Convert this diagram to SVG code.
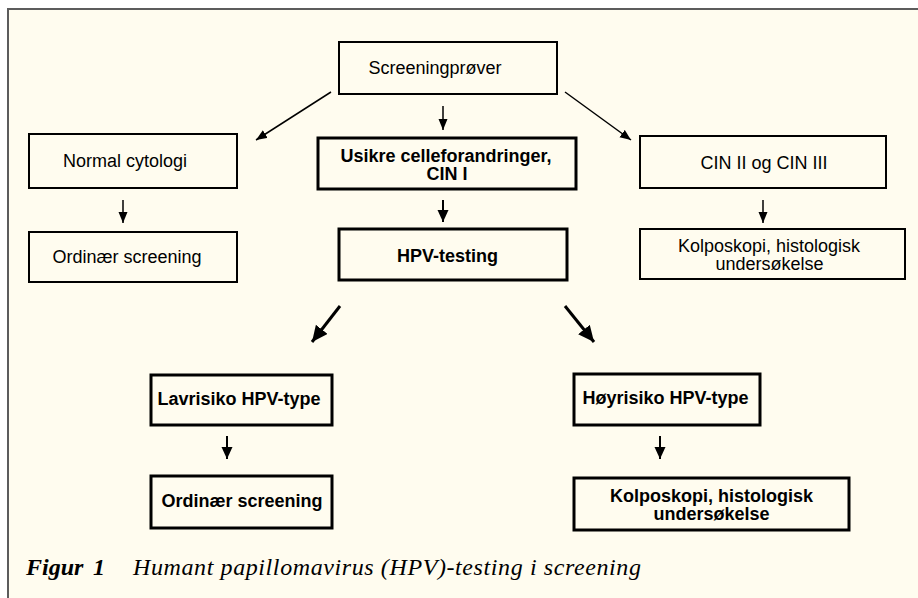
<svg xmlns="http://www.w3.org/2000/svg" width="918" height="598" viewBox="0 0 918 598">
<defs>
<style>
.box{fill:none;stroke:#000;stroke-width:2}
.boxb{fill:none;stroke:#000;stroke-width:3}
.t{font-family:"Liberation Sans",Arial,sans-serif;font-size:18px;fill:#000;text-anchor:middle}
.tb{font-family:"Liberation Sans",Arial,sans-serif;font-size:18px;font-weight:bold;fill:#000;text-anchor:middle}
.cap{font-family:"Liberation Serif","Times New Roman",serif;font-size:24px;font-style:italic;fill:#000}
.ln{stroke:#000;stroke-width:1.5;fill:none}
.lnm{stroke:#000;stroke-width:2;fill:none}
.lnb{stroke:#000;stroke-width:3;fill:none}
</style>
<marker id="ah" markerUnits="userSpaceOnUse" markerWidth="12" markerHeight="10" refX="11" refY="4.5" orient="auto"><path d="M0,0 L11,4.5 L0,9 z" fill="#000"/></marker>
<marker id="ahm" markerUnits="userSpaceOnUse" markerWidth="14" markerHeight="12" refX="12" refY="5.5" orient="auto"><path d="M0,0 L12,5.5 L0,11 z" fill="#000"/></marker>
<marker id="ahb" markerUnits="userSpaceOnUse" markerWidth="18" markerHeight="16" refX="16" refY="7.5" orient="auto"><path d="M0,0 L16,7.5 L0,15 z" fill="#000"/></marker>
</defs>
<rect x="0" y="0" width="918" height="598" fill="#fff"/>
<rect x="8" y="9" width="910" height="589" fill="#fffcef"/>
<path d="M8,598 L8,9 L918,9" fill="none" stroke="#5c5c5c" stroke-width="2"/>

<g id="connectors">
<line class="ln" x1="331" y1="92" x2="256" y2="140" marker-end="url(#ah)"/>
<line class="ln" x1="443" y1="106" x2="443" y2="130" marker-end="url(#ah)"/>
<line class="ln" x1="565" y1="92" x2="631" y2="140" marker-end="url(#ah)"/>
<line class="ln" x1="123" y1="200" x2="123" y2="223" marker-end="url(#ah)"/>
<line class="ln" x1="763" y1="200" x2="763" y2="223" marker-end="url(#ah)"/>
<line class="lnm" x1="443" y1="200" x2="443" y2="222" marker-end="url(#ahm)"/>
<line class="lnb" x1="340" y1="306" x2="312" y2="342" marker-end="url(#ahb)"/>
<line class="lnb" x1="565" y1="306" x2="594" y2="342" marker-end="url(#ahb)"/>
<line class="lnm" x1="227" y1="436" x2="227" y2="459" marker-end="url(#ahm)"/>
<line class="lnm" x1="660" y1="436" x2="660" y2="459" marker-end="url(#ahm)"/>
</g>

<g id="screeningprover"><rect class="box" x="339" y="42" width="218" height="52"/><text class="t" x="435" y="74">Screeningprøver</text></g>
<g id="normal-cytologi"><rect class="box" x="29" y="134" width="208" height="54"/><text class="t" x="125" y="167">Normal cytologi</text></g>
<g id="ordinaer-screening-1"><rect class="box" x="29" y="232" width="208" height="50"/><text class="t" x="127" y="263">Ordinær screening</text></g>
<g id="usikre"><rect class="boxb" x="318" y="138" width="258" height="51"/><text class="tb" x="446" y="162">Usikre celleforandringer,</text><text class="tb" x="447" y="180">CIN I</text></g>
<g id="hpv-testing"><rect class="boxb" x="339" y="229" width="228" height="51"/><text class="tb" x="447.5" y="262">HPV-testing</text></g>
<g id="cin-ii-iii"><rect class="box" x="640" y="136" width="246" height="52"/><text class="t" x="764" y="169">CIN II og CIN III</text></g>
<g id="kolposkopi-1"><rect class="box" x="640" y="229" width="265" height="50"/><text class="t" x="769" y="252">Kolposkopi, histologisk</text><text class="t" x="769.5" y="270">undersøkelse</text></g>
<g id="lavrisiko"><rect class="boxb" x="151" y="375" width="181" height="50"/><text class="tb" x="239" y="405">Lavrisiko HPV-type</text></g>
<g id="ordinaer-screening-2"><rect class="boxb" x="151" y="476" width="181" height="52"/><text class="tb" x="242" y="507">Ordinær screening</text></g>
<g id="hoyrisiko"><rect class="boxb" x="574" y="374" width="186" height="51"/><text class="tb" x="665.5" y="404">Høyrisiko HPV-type</text></g>
<g id="kolposkopi-2"><rect class="boxb" x="574" y="478" width="275" height="52"/><text class="tb" x="711.5" y="502">Kolposkopi, histologisk</text><text class="tb" x="711.5" y="520">undersøkelse</text></g>

<g id="caption">
<text class="cap" x="26" y="575" font-weight="bold">Figur</text>
<text class="cap" x="93" y="575" font-weight="bold">1</text>
<text class="cap" x="133" y="575" letter-spacing="0.6">Humant papillomavirus (HPV)-testing i screening</text>
</g>
</svg>
